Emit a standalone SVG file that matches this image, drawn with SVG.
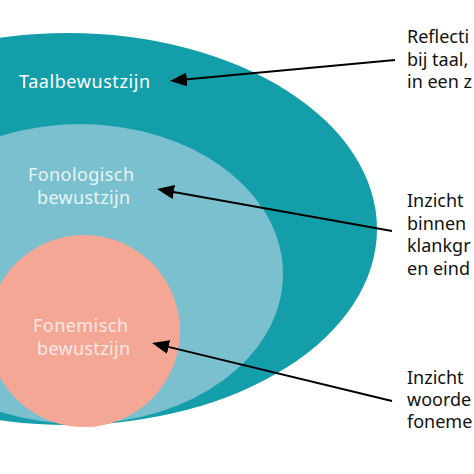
<svg xmlns="http://www.w3.org/2000/svg" width="474" height="474" viewBox="0 0 474 474">
<style>
.lbl{font-family:"Noto Sans","Liberation Sans",sans-serif;font-size:18px}
.desc{fill:#111111}
.conn{stroke:#000000;stroke-width:2;fill:none;marker-end:url(#ah)}
</style>
<defs>
<marker id="ah" markerUnits="userSpaceOnUse" markerWidth="18" markerHeight="14" refX="13" refY="7" orient="auto">
<path d="M0,0 L17,7 L0,14 z" fill="#000000"/>
</marker>
</defs>
<rect width="474" height="474" fill="#ffffff"/>
<g id="taalbewustzijn">
<ellipse cx="68" cy="229" rx="309" ry="196" fill="#139ea9"/>
<text class="lbl" x="19" y="88" fill="#ffffff" textLength="131" lengthAdjust="spacing">Taalbewustzijn</text>
</g>
<g id="fonologisch">
<ellipse cx="80" cy="274" rx="203" ry="150" fill="#7bc0cf"/>
<text class="lbl" x="28" y="181" fill="#e6f5f8" textLength="106" lengthAdjust="spacing">Fonologisch</text>
<text class="lbl" x="37" y="204" fill="#e6f5f8" textLength="93" lengthAdjust="spacing">bewustzijn</text>
</g>
<g id="fonemisch">
<circle cx="84" cy="331" r="96" fill="#f5a796"/>
<text class="lbl" x="33" y="332" fill="#fde9e3" textLength="95" lengthAdjust="spacing">Fonemisch</text>
<text class="lbl" x="37" y="355" fill="#fde9e3" textLength="93" lengthAdjust="spacing">bewustzijn</text>
</g>
<g id="desc1">
<text class="lbl desc" x="407" y="43">Reflecti</text>
<text class="lbl desc" x="407" y="65.5">bij taal,</text>
<text class="lbl desc" x="407" y="88">in een z</text>
</g>
<g id="desc2">
<text class="lbl desc" x="407" y="207">Inzicht</text>
<text class="lbl desc" x="407" y="229.5">binnen</text>
<text class="lbl desc" x="407" y="252">klankgr</text>
<text class="lbl desc" x="407" y="274.5">en eind</text>
</g>
<g id="desc3">
<text class="lbl desc" x="407" y="384">Inzicht</text>
<text class="lbl desc" x="407" y="406">woorde</text>
<text class="lbl desc" x="407" y="428">foneme</text>
</g>
<g id="connectors">
<line class="conn" x1="395" y1="60" x2="174" y2="80.6"/>
<line class="conn" x1="392" y1="231" x2="161" y2="189.7"/>
<line class="conn" x1="392" y1="401" x2="156" y2="343.9"/>
</g>
</svg>
